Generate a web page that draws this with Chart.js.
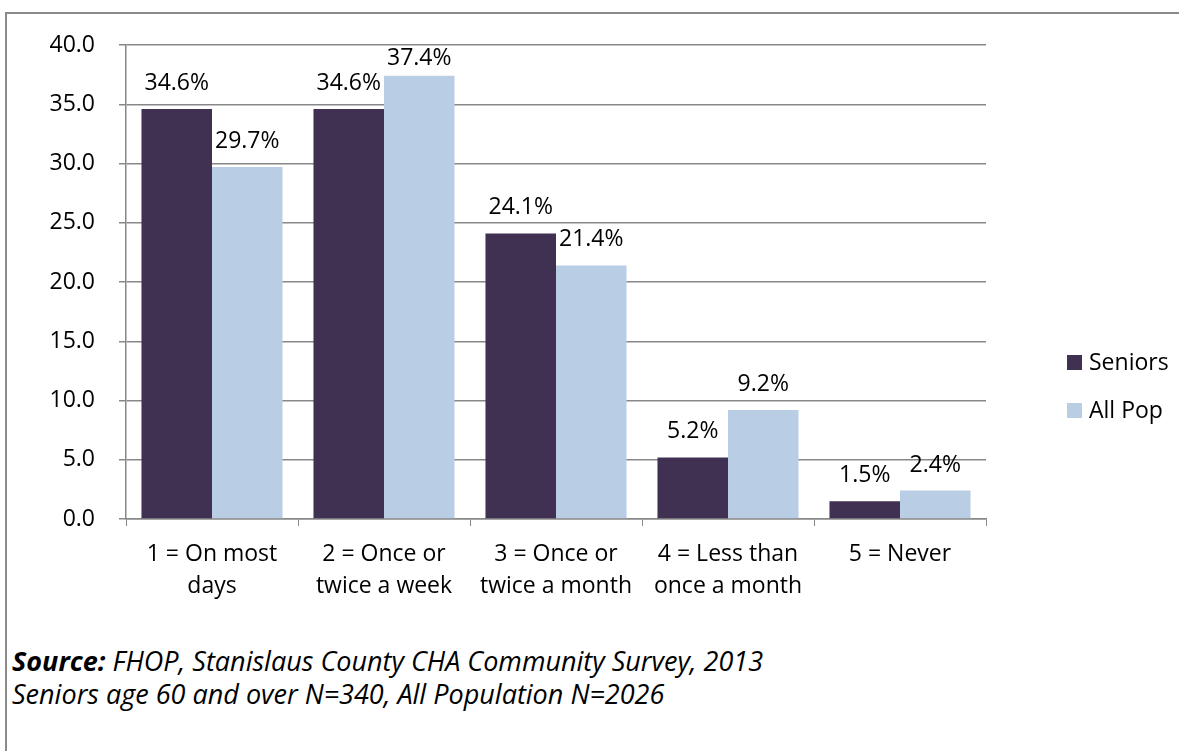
<!DOCTYPE html>
<html>
<head>
<meta charset="utf-8">
<script src="https://cdn.jsdelivr.net/npm/chart.js@4"></script>
<style>
  body { margin: 0; background: #fff; overflow: hidden; }
  #frame { position: absolute; left: 5px; top: 12px; width: 1200px; height: 800px; border: 2px solid #8a8a8a; }
  #wrap { position: absolute; left: 0; top: 0; width: 1179px; height: 620px; }
  .note { position: absolute; left: 12px; font-family: "Open Sans", sans-serif; font-style: italic; font-size: 27px; line-height: 33px; color: #000; white-space: nowrap; }
</style>
</head>
<body>
<div id="frame"></div>
<div id="wrap"><canvas id="chart" width="1179" height="620"></canvas></div>
<div class="note" style="top:644px"><b>Source:</b> FHOP, Stanislaus County CHA Community Survey, 2013</div>
<div class="note" style="top:677px">Seniors age 60 and over N=340, All Population N=2026</div>
<script>
const categories = [
  ["1 = On most", "days"],
  ["2 = Once or", "twice a week"],
  ["3 = Once or", "twice a month"],
  ["4 = Less than", "once a month"],
  ["5 = Never"]
];
const seniors = [34.6, 34.6, 24.1, 5.2, 1.5];
const allPop = [29.7, 37.4, 21.4, 9.2, 2.4];
const seriesNames = ["Seniors", "All Pop"];
const seriesColors = ["#403152", "#B9CDE5"];

const FONT = "'Open Sans', sans-serif";

// value labels above bars, kept inside the plot area like Excel does
const valueLabels = {
  id: "valueLabels",
  afterDatasetsDraw(chart) {
    const ctx = chart.ctx;
    const top = chart.chartArea.top;
    ctx.save();
    ctx.font = "23px " + FONT;
    ctx.fillStyle = "#000";
    ctx.textAlign = "center";
    ctx.textBaseline = "alphabetic";
    chart.data.datasets.forEach((ds, i) => {
      chart.getDatasetMeta(i).data.forEach((bar, j) => {
        const y = Math.max(bar.y - 19, top + 20);
        ctx.fillText(ds.data[j].toFixed(1) + "%", bar.x, y);
      });
    });
    ctx.restore();
  }
};

const sideLegend = {
  id: "sideLegend",
  afterDraw(chart) {
    const ctx = chart.ctx;
    ctx.save();
    ctx.font = "23px " + FONT;
    ctx.textBaseline = "middle";
    chart.data.datasets.forEach((ds, i) => {
      const y = 362 + i * 48;
      ctx.fillStyle = ds.backgroundColor;
      ctx.fillRect(1067, y - 7, 15, 15);
      ctx.fillStyle = "#000";
      ctx.fillText(ds.label, 1089, y + 1);
    });
    ctx.restore();
  }
};

new Chart(document.getElementById("chart"), {
  type: "bar",
  data: {
    labels: categories,
    datasets: [
      { label: seriesNames[0], data: seniors, backgroundColor: seriesColors[0] },
      { label: seriesNames[1], data: allPop, backgroundColor: seriesColors[1] }
    ]
  },
  options: {
    responsive: false,
    animation: false,
    devicePixelRatio: 1,
    categoryPercentage: 0.82,
    barPercentage: 1,
    layout: { padding: { top: 45, right: 193, left: 0, bottom: 0 } },
    plugins: { legend: { display: false }, tooltip: { enabled: false } },
    scales: {
      x: {
        afterFit(s) { s.height = 101; },
        grid: { drawOnChartArea: false, drawTicks: true, tickLength: 7, color: "#888", offset: true },
        border: { color: "#888", width: 1.5 },
        ticks: { color: "#000", font: { family: FONT, size: 23, lineHeight: 1.4 }, padding: 12, maxRotation: 0, autoSkip: false }
      },
      y: {
        min: 0,
        max: 40,
        afterFit(s) { s.width = 126; },
        grid: { color: "#888", lineWidth: 1.5, tickLength: 7 },
        border: { color: "#888", width: 1.5 },
        ticks: {
          stepSize: 5,
          color: "#000",
          padding: 24,
          font: { family: FONT, size: 23 },
          callback: (v) => v.toFixed(1)
        }
      }
    }
  },
  plugins: [valueLabels, sideLegend]
});
</script>
</body>
</html>
